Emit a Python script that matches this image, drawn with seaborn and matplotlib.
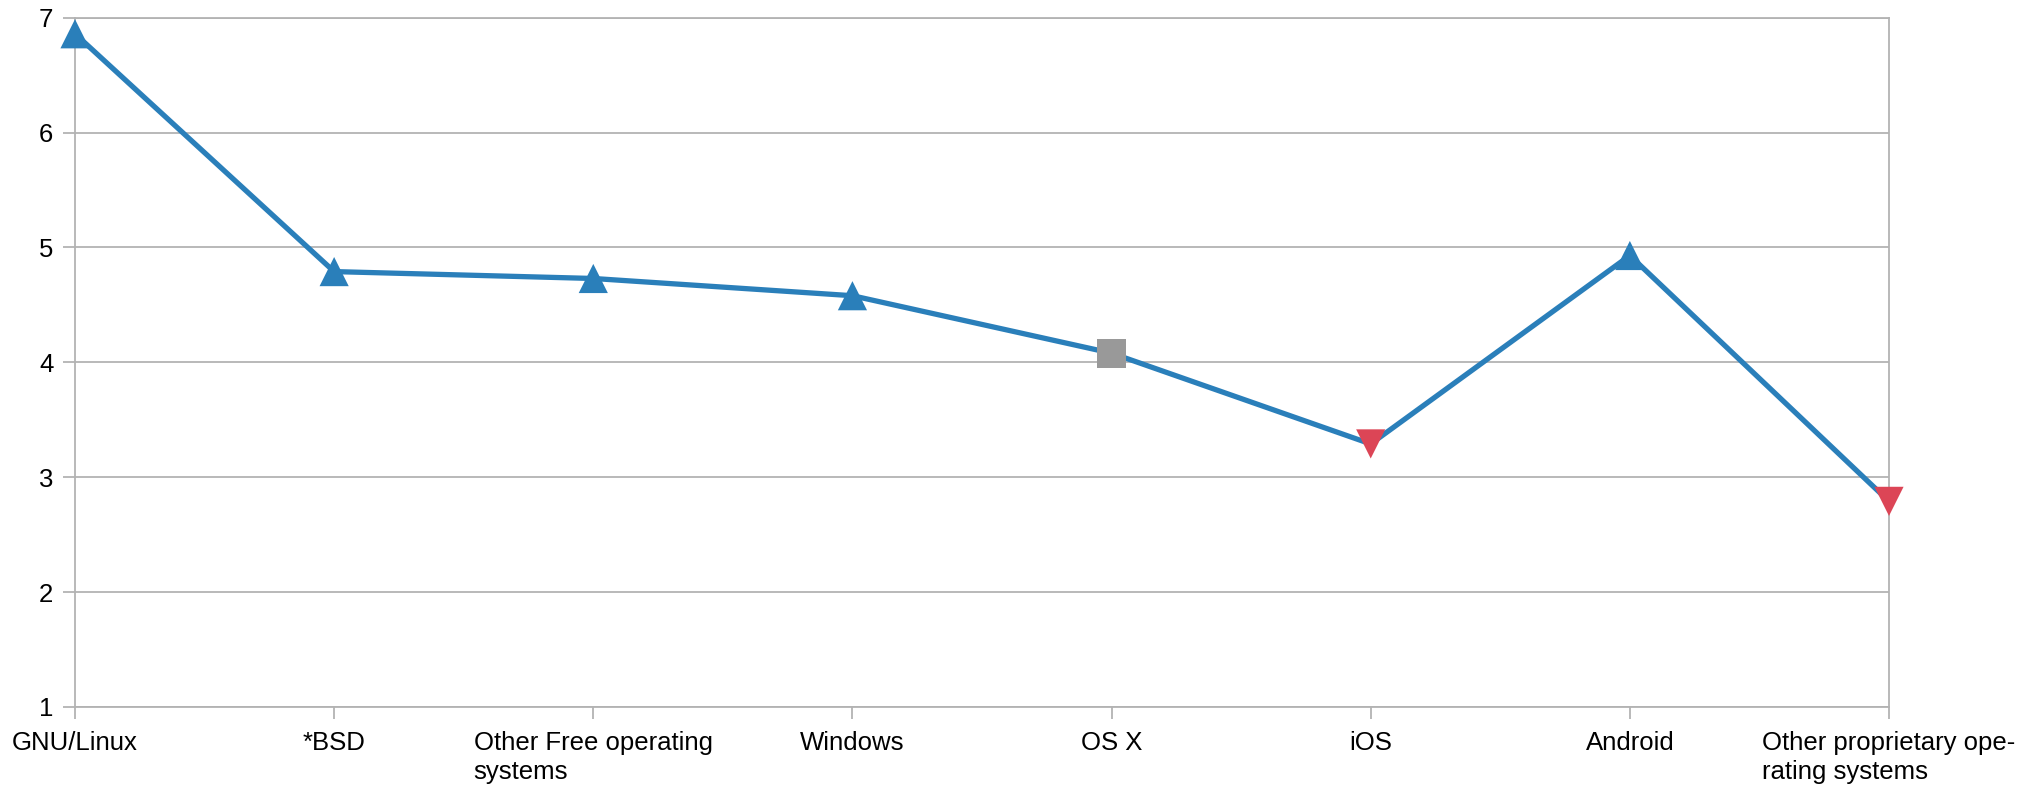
import numpy as np
import pandas as pd
import matplotlib
matplotlib.use("Agg")
import matplotlib.pyplot as plt
import seaborn as sns

categories = ["GNU/Linux", "*BSD", "Other Free operating\nsystems", "Windows",
              "OS X", "iOS", "Android", "Other proprietary ope-\nrating systems"]
values = [6.86, 4.79, 4.73, 4.58, 4.08, 3.29, 4.93, 2.79]
trend = ["up", "up", "up", "up", "flat", "down", "up", "down"]

colors = {"up": "#2a7fba", "flat": "#999999", "down": "#dc4556"}
markers = {"up": "^", "flat": "s", "down": "v"}
grid_col = "#b3b3b3"

df = pd.DataFrame({"os": categories, "score": values, "trend": trend})

sns.set_style("white")
plt.rcParams["font.family"] = ["Liberation Sans", "DejaVu Sans"]

fig = plt.figure(figsize=(20.31, 7.86), dpi=100)
ax = fig.add_axes([75 / 2031, 1 - 707 / 786, (1889 - 75) / 2031, (707 - 17.7) / 786])

sns.lineplot(data=df, x="os", y="score", sort=False, color="#2a7fba",
             linewidth=3.8, ax=ax, zorder=3)
sns.scatterplot(data=df, x="os", y="score", hue="trend", style="trend",
                palette=colors, markers=markers, s=21 ** 2, linewidth=0,
                legend=False, ax=ax, zorder=4, clip_on=False)

ax.set_xlim(0, len(categories) - 1)
ax.set_ylim(1, 7)
ax.set_yticks(range(1, 8))
ax.yaxis.grid(True, color=grid_col, linewidth=1.3)
ax.xaxis.grid(False)
for sp in ax.spines.values():
    sp.set_visible(True)
    sp.set_color(grid_col)
    sp.set_linewidth(1.3)

ax.set_xlabel("")
ax.set_ylabel("")
ax.tick_params(axis="both", which="both", length=8.6, width=1.3, color=grid_col,
               labelsize=18.5, labelcolor="black", pad=7)
ax.tick_params(axis="x", bottom=True, pad=8.5)
ax.tick_params(axis="y", left=True)
for lab in ax.get_xticklabels():
    lab.set_multialignment("left")
    lab.set_linespacing(1.3)

fig.savefig("out.png", dpi=100)
